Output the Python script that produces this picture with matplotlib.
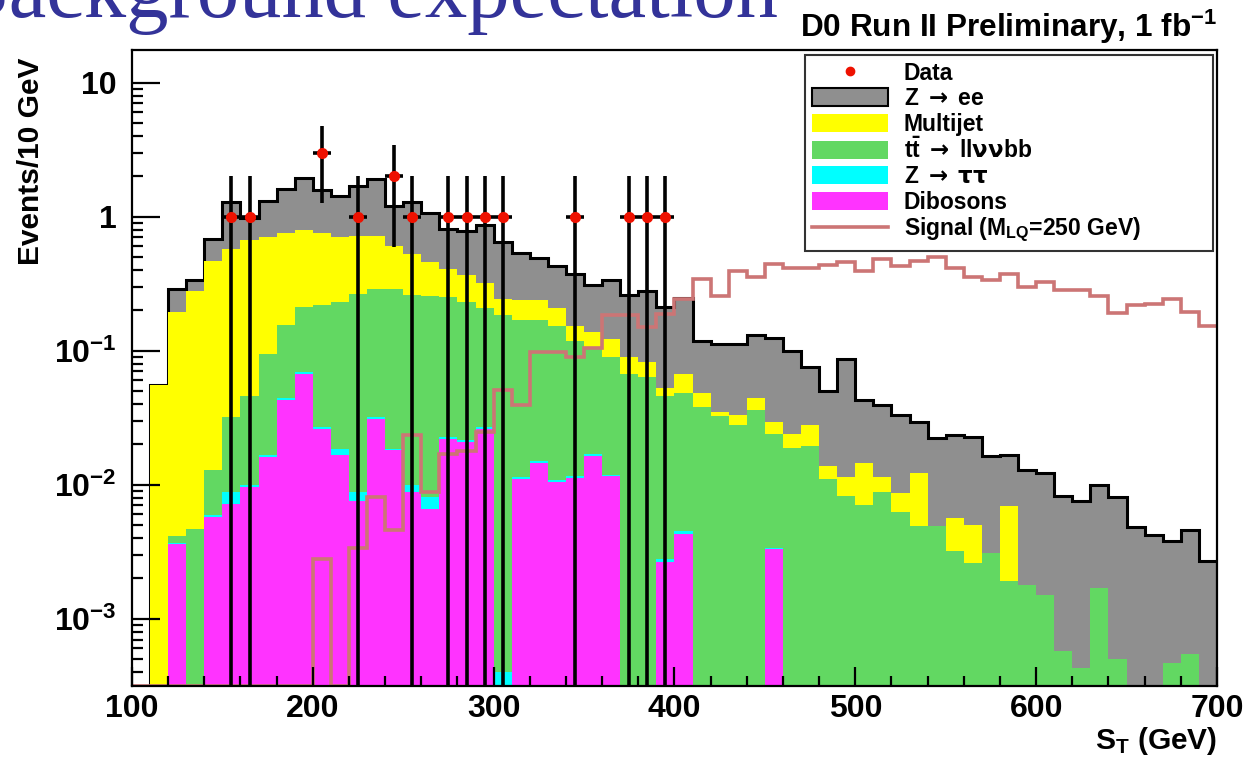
import numpy as np
import matplotlib.pyplot as plt
from matplotlib.patches import Patch
from matplotlib.lines import Line2D
from matplotlib.ticker import FixedLocator, LogLocator, MultipleLocator, FuncFormatter

plt.rcParams['font.family'] = 'Liberation Sans'
plt.rcParams['font.weight'] = 'bold'
plt.rcParams['axes.labelweight'] = 'bold'
plt.rcParams['mathtext.fontset'] = 'custom'
plt.rcParams['mathtext.rm'] = 'Liberation Sans:bold'
plt.rcParams['mathtext.bf'] = 'Liberation Sans:bold'
plt.rcParams['mathtext.it'] = 'Liberation Sans:bold'
plt.rcParams['mathtext.sf'] = 'DejaVu Sans'
plt.rcParams['mathtext.default'] = 'rm'

# S_T bins, 10 GeV wide, 100..700
edges = np.arange(100, 701, 10)

# stacked heights (each = sum of itself and everything below it)
zee_top = [0, 0.055, 0.29, 0.335, 0.685, 1.29, 0.97, 1.30, 1.6, 1.95,
           1.59, 1.43, 1.69, 1.9, 1.21, 1.29, 1.07, 0.81, 0.78, 0.86,
           0.647, 0.54, 0.49, 0.43, 0.375, 0.31, 0.335, 0.262, 0.28, 0.212,
           0.247, 0.119, 0.113, 0.113, 0.132, 0.124, 0.099, 0.0755, 0.05, 0.087,
           0.0425, 0.0396, 0.033, 0.0294, 0.0223, 0.0233, 0.0227, 0.0164, 0.0166, 0.0128,
           0.0123, 0.0083, 0.0075, 0.010, 0.0081, 0.0048, 0.0042, 0.0038, 0.0046, 0.0027]
multijet_top = [0, 0.055, 0.195, 0.28, 0.47, 0.577, 0.665, 0.71, 0.75, 0.79,
                0.76, 0.71, 0.72, 0.72, 0.6, 0.53, 0.46, 0.41, 0.37, 0.32,
                0.245, 0.24, 0.24, 0.208, 0.154, 0.138, 0.123, 0.09, 0.082, 0.053,
                0.067, 0.048, 0.035, 0.033, 0.044, 0.0294, 0.024, 0.0278, 0.0137, 0.0114,
                0.0144, 0.0114, 0.0087, 0.0123, 0.0049, 0.0056, 0.005, 0.0031, 0.0069, 0.0018,
                0.0015, 0.00057, 0.00043, 0.0017, 0.0005, 0, 0, 0.00047, 0.00055, 0]
ttbar_top = [0, 0, 0.00414, 0.00464, 0.0128, 0.032, 0.046, 0.095, 0.155, 0.213,
             0.22, 0.23, 0.266, 0.29, 0.29, 0.26, 0.257, 0.25, 0.23, 0.208,
             0.184, 0.168, 0.168, 0.154, 0.119, 0.104, 0.09, 0.067, 0.064, 0.046,
             0.048, 0.038, 0.0325, 0.028, 0.036, 0.024, 0.0187, 0.0196, 0.011, 0.0083,
             0.0071, 0.0088, 0.0063, 0.0049, 0.0049, 0.0032, 0.0026, 0.0031, 0.0019, 0.0018,
             0.0015, 0.00057, 0.00043, 0.0017, 0.0005, 0, 0, 0.00047, 0.00055, 0]
ztautau_top = [0, 0, 0.0037, 0, 0.0059, 0.0088, 0.0099, 0.0166, 0.044, 0.069,
               0.027, 0.0186, 0.0088, 0.032, 0.0186, 0.0100, 0.0081, 0.0227, 0.0216, 0.0268,
               0.0004, 0.0114, 0.015, 0.0108, 0.0116, 0.0169, 0.0119, 0, 0, 0.0028,
               0.0045, 0, 0, 0, 0, 0.0034, 0, 0, 0, 0,
               0, 0, 0, 0, 0, 0, 0, 0, 0, 0,
               0, 0, 0, 0, 0, 0, 0, 0, 0, 0]
diboson_top = [0, 0, 0.0036, 0, 0.0057, 0.0072, 0.0096, 0.0161, 0.043, 0.067,
               0.026, 0.0166, 0.0076, 0.031, 0.018, 0.0088, 0.0066, 0.022, 0.021, 0.026,
               0, 0.0111, 0.0146, 0.0105, 0.0113, 0.0164, 0.0116, 0, 0, 0.00265,
               0.0043, 0, 0, 0, 0, 0.0033, 0, 0, 0, 0,
               0, 0, 0, 0, 0, 0, 0, 0, 0, 0,
               0, 0, 0, 0, 0, 0, 0, 0, 0, 0]
signal = [0, 0, 0, 0, 0, 0, 0, 0, 0, 0,
          0.0028, 0, 0.0034, 0.0081, 0.0046, 0.0233, 0.0088, 0.017, 0.0178, 0.0247,
          0.0507, 0.039, 0.098, 0.098, 0.09, 0.104, 0.184, 0.184, 0.15, 0.189,
          0.245, 0.34, 0.256, 0.39, 0.355, 0.446, 0.414, 0.414, 0.438, 0.459,
          0.39, 0.48, 0.43, 0.465, 0.5, 0.414, 0.355, 0.335, 0.375, 0.3,
          0.326, 0.282, 0.285, 0.258, 0.192, 0.22, 0.224, 0.245, 0.195, 0.153]

# data points (bin centres, counts, poisson errors)
data_x = [155, 165, 205, 225, 245, 255, 275, 285, 295, 305, 345, 375, 385, 395]
data_n = [1, 1, 3, 1, 2, 1, 1, 1, 1, 1, 1, 1, 1, 1]
data_err = [1, 1, 1.73, 1, 1.41, 1, 1, 1, 1, 1, 1, 1, 1, 1]

c_zee = '#8f8f8f'
c_multijet = '#ffff00'
c_ttbar = '#62d862'
c_ztautau = '#00ffff'
c_diboson = '#ff33ff'
c_signal = '#cc7575'

ymin, ymax = 3.15e-4, 17.5
floor = 1e-6

fig = plt.figure(figsize=(12.45, 7.58), dpi=100)
ax = fig.add_axes([0.106, 0.095, 0.8715, 0.839])
ax.set_yscale('log')

# stack drawn from the top down, like ROOT does
ax.stairs(np.maximum(zee_top, floor), edges, baseline=floor, fill=True, color=c_zee, lw=0)
ax.stairs(np.maximum(zee_top, floor), edges, baseline=floor, color='black', lw=2.2)
for top, col in [(multijet_top, c_multijet), (ttbar_top, c_ttbar),
                 (ztautau_top, c_ztautau), (diboson_top, c_diboson)]:
    ax.stairs(np.maximum(top, floor), edges, baseline=floor, fill=True, color=col, lw=0)

ax.stairs(np.maximum(signal, ymin), edges, baseline=None, color=c_signal, lw=2.6)

ax.errorbar(data_x, data_n, yerr=data_err, xerr=5, fmt='o', color='#ee1100',
            ms=7, ecolor='black', elinewidth=2.6, capsize=0, zorder=5)

ax.set_xlim(100, 700)
ax.set_ylim(ymin, ymax)

ax.xaxis.set_major_locator(MultipleLocator(100))
ax.xaxis.set_minor_locator(MultipleLocator(20))
ax.yaxis.set_major_locator(FixedLocator([1e-3, 1e-2, 1e-1, 1, 10]))
ax.yaxis.set_minor_locator(LogLocator(base=10, subs=np.arange(2, 10)))
ylabels = {1e-3: r'$10^{-3}$', 1e-2: r'$10^{-2}$', 1e-1: r'$10^{-1}$', 1: '1', 10: '10'}
ax.yaxis.set_major_formatter(FuncFormatter(lambda v, p: ylabels.get(v, '')))
ax.yaxis.set_minor_formatter(FuncFormatter(lambda v, p: ''))

ax.tick_params(axis='x', which='major', direction='in', length=14, width=1.6, labelsize=23, pad=6)
ax.tick_params(axis='x', which='minor', direction='in', length=7, width=1.6)
ax.tick_params(axis='y', which='major', direction='in', length=20, width=1.6, labelsize=23, pad=11)
ax.tick_params(axis='y', which='minor', direction='in', length=8, width=1.6)
for s in ax.spines.values():
    s.set_linewidth(1.6)

ax.set_ylabel('Events/10 GeV', fontsize=21.5, loc='top')
ax.yaxis.set_label_coords(-0.080, 0.988)
ax.set_xlabel(r'S$_{T}$ (GeV)', fontsize=21.5, loc='right')
ax.xaxis.set_label_coords(1.0, -0.062)

fig.text(1217 / 1245, 1 - 37 / 758, r'D0 Run II Preliminary, 1 fb$^{-1}$', ha='right',
         va='baseline', fontsize=22.7)
fig.text(778 / 1245, 1 - 17 / 758, 'Background expectation', ha='right', va='baseline',
         fontsize=61, family='Liberation Serif', weight='normal', color='#333399')

handles = [Line2D([], [], ls='none', marker='o', color='#ee1100', ms=6),
           Patch(facecolor=c_zee, edgecolor='black', lw=1.5),
           Patch(facecolor=c_multijet), Patch(facecolor=c_ttbar),
           Patch(facecolor=c_ztautau), Patch(facecolor=c_diboson),
           Line2D([], [], color=c_signal, lw=2.6)]
labels = ['Data', r'Z $\mathsf{\rightarrow}$ ee', 'Multijet',
          r't$\bar{\mathrm{t}}$ $\mathsf{\rightarrow}$ ll$\mathsf{\nu\nu}$bb',
          r'Z $\mathsf{\rightarrow}$ $\mathsf{\tau\tau}$', 'Dibosons',
          r'Signal (M$_{\mathrm{LQ}}$=250 GeV)']
leg = ax.legend(handles, labels, loc='upper left', bbox_to_anchor=(0.6205, 0.689, 0.376, 0.303),
                mode='expand', fontsize=16.5, frameon=True, fancybox=False, edgecolor='black',
                handlelength=3.3, handleheight=0.85, labelspacing=0.1, borderpad=0.3,
                handletextpad=0.7, borderaxespad=0)
leg.get_frame().set_linewidth(1.5)

fig.savefig('out.png', dpi=100)
